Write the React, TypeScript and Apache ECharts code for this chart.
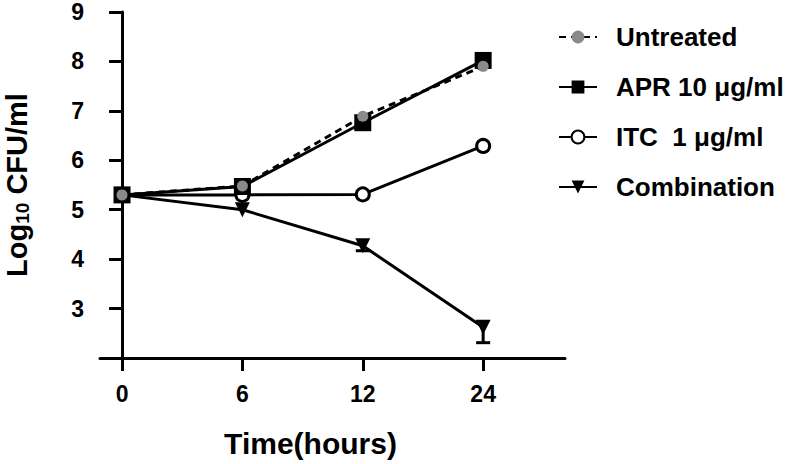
import React, { useEffect, useRef } from "react";
import * as echarts from "echarts";

const timeLabels = ["0", "6", "12", "24"];
const timeIndex = [0, 1, 2, 3];
const untreated = [5.3, 5.48, 6.89, 7.9];
const apr = [5.3, 5.47, 6.76, 8.02];
const itc = [5.3, 5.3, 5.31, 6.29];
const combination = [5.3, 5.0, 4.27, 2.62];
const combinationLow = [5.3, 4.97, 4.17, 2.31];
const seriesNames = ["Untreated", "APR 10 μg/ml", "ITC  1 μg/ml", "Combination"];

const FONT = "'Liberation Sans', Arial, Helvetica, sans-serif";

export default function App() {
  const ref = useRef<HTMLDivElement>(null);
  useEffect(() => {
    if (!ref.current) return;
    const chart = echarts.init(ref.current, undefined, { renderer: "svg" });
    const pts = (vals: number[]) => vals.map((v, i) => [timeIndex[i], v]);
    chart.setOption({
      animation: false,
      backgroundColor: "#ffffff",
      textStyle: { fontFamily: FONT },
      grid: { left: 100, right: 235, top: 12, bottom: 106, containLabel: false, outerBoundsMode: "none" },
      legend: {
        left: 553,
        top: 17,
        orient: "vertical",
        itemWidth: 38,
        itemHeight: 16,
        itemGap: 20,
        data: seriesNames,
        textStyle: { fontFamily: FONT, fontWeight: "bold", fontSize: 26, color: "#000", lineHeight: 30, padding: [0, 0, 0, 14] },
      },
      xAxis: {
        type: "value",
        min: -0.183,
        max: 3.68,
        name: "Time(hours)",
        nameLocation: "middle",
        nameGap: 70,
        nameTextStyle: { fontFamily: FONT, fontWeight: "bold", fontSize: 30, color: "#000", padding: [0, 44, 0, 0] },
        splitLine: { show: false },
        axisLine: { onZero: false, lineStyle: { color: "#000", width: 3 } },
        axisTick: { show: true, customValues: timeIndex, length: 13, lineStyle: { color: "#000", width: 3 } },
        axisLabel: {
          customValues: timeIndex,
          formatter: (v: number) => timeLabels[Math.round(v)] ?? "",
          margin: 24,
          fontFamily: FONT,
          fontWeight: "bold",
          fontSize: 23,
          color: "#000",
        },
      },
      yAxis: {
        type: "value",
        min: 2,
        max: 9,
        interval: 1,
        name: "{a|Log}{s|10}{a| CFU/ml}",
        nameLocation: "middle",
        nameGap: 68,
        nameRotate: 90,
        nameTextStyle: {
          rich: {
            a: { fontFamily: FONT, fontWeight: "bold", fontSize: 29, color: "#000", lineHeight: 30 },
            s: { fontFamily: FONT, fontWeight: "bold", fontSize: 19, color: "#000", lineHeight: 30, verticalAlign: "bottom", padding: [5, 0, 0, 0] },
          },
        },
        splitLine: { show: false },
        axisLine: { onZero: true, lineStyle: { color: "#000", width: 3 } },
        axisTick: { show: true, length: 13, lineStyle: { color: "#000", width: 3 } },
        axisLabel: {
          showMinLabel: false,
          margin: 16,
          fontFamily: FONT,
          fontWeight: "bold",
          fontSize: 23,
          color: "#000",
        },
      },
      series: [
        {
          name: seriesNames[1],
          type: "line",
          z: 3,
          data: pts(apr),
          symbol: "rect",
          symbolSize: 17,
          lineStyle: { color: "#000", width: 3 },
          itemStyle: { color: "#000" },
        },
        {
          name: seriesNames[2],
          type: "line",
          z: 2,
          data: pts(itc),
          symbol: "circle",
          symbolSize: 13,
          lineStyle: { color: "#000", width: 3 },
          itemStyle: { color: "#fff", borderColor: "#000", borderWidth: 3 },
        },
        {
          name: seriesNames[3],
          type: "line",
          z: 2,
          data: pts(combination),
          symbol: "triangle",
          symbolRotate: 180,
          symbolSize: 15,
          lineStyle: { color: "#000", width: 3 },
          itemStyle: { color: "#000" },
        },
        {
          name: "errbar",
          type: "custom",
          z: 2,
          data: combinationLow.map((lo, i) => [timeIndex[i], lo, combination[i]]),
          renderItem: (params: any, api: any) => {
            const x = api.value(0);
            const lo = api.coord([x, api.value(1)]);
            const mid = api.coord([x, api.value(2)]);
            if (Math.abs(lo[1] - mid[1]) < 3) return { type: "group", children: [] };
            return {
              type: "group",
              children: [
                { type: "line", shape: { x1: lo[0], y1: lo[1], x2: mid[0], y2: mid[1] }, style: { stroke: "#000", lineWidth: 3 } },
                { type: "line", shape: { x1: lo[0] - 7, y1: lo[1], x2: lo[0] + 7, y2: lo[1] }, style: { stroke: "#000", lineWidth: 3 } },
              ],
            };
          },
        },
        {
          name: seriesNames[0],
          type: "line",
          z: 4,
          data: pts(untreated),
          symbol: "circle",
          symbolSize: 11,
          lineStyle: { color: "#000", width: 3, type: [7, 5] },
          itemStyle: { color: "#8a8a8a" },
        },
      ],
    });
    return () => chart.dispose();
  }, []);
  return <div ref={ref} style={{ position: "fixed", left: 0, top: 0, width: 800, height: 464 }} />;
}
